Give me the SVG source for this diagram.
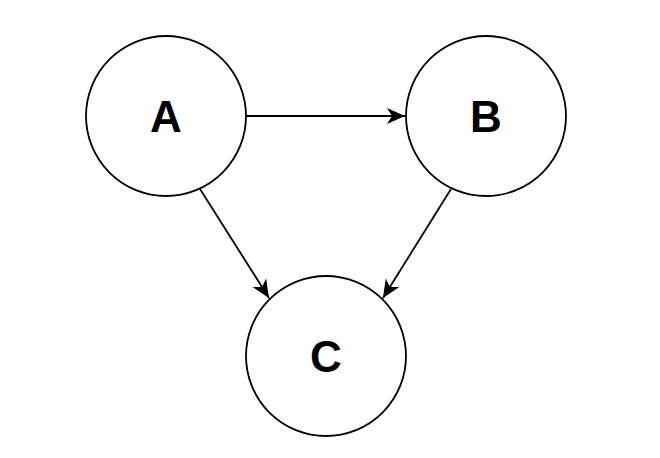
<svg xmlns="http://www.w3.org/2000/svg" width="660" height="458" viewBox="0 0 660 458">
<defs>
<style>
.node circle{fill:#fff;stroke:#000;stroke-width:1.8}
.node text{font-family:"Liberation Sans",Arial,sans-serif;font-weight:bold;font-size:44px;text-anchor:middle;fill:#000}
.edge{fill:none;stroke:#000;stroke-width:1.8}
</style>
<marker id="arr" markerUnits="userSpaceOnUse" markerWidth="20" markerHeight="20" refX="0" refY="0" viewBox="-18 -9 20 18" orient="auto" overflow="visible">
<path d="M0,0 L-18,-8 L-13,0 L-18,8 Z" fill="#000"/>
</marker>
</defs>
<rect width="660" height="458" fill="#fff"/>
<g id="connectors">
<line class="edge" x1="246" y1="116" x2="405" y2="116" marker-end="url(#arr)"/>
<line class="edge" x1="200" y1="189" x2="269" y2="298" marker-end="url(#arr)"/>
<line class="edge" x1="451" y1="189" x2="383" y2="298" marker-end="url(#arr)"/>
</g>
<g id="node-A" class="node"><circle cx="166" cy="116" r="80"/><text x="166" y="132">A</text></g>
<g id="node-B" class="node"><circle cx="486" cy="116" r="80"/><text x="486" y="132">B</text></g>
<g id="node-C" class="node"><circle cx="326" cy="356" r="80"/><text x="326" y="372">C</text></g>
</svg>
